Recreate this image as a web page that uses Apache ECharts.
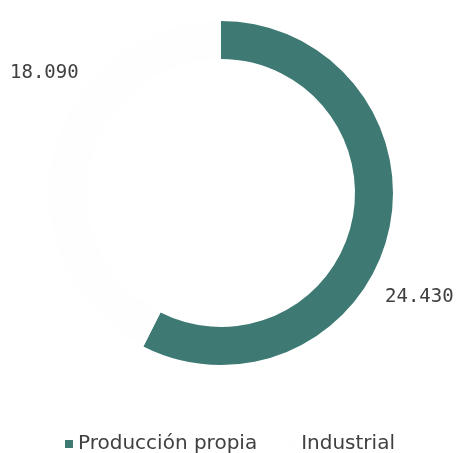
<!DOCTYPE html>
<html>
<head>
<meta charset="utf-8">
<script src="https://cdn.jsdelivr.net/npm/echarts@6/dist/echarts.min.js"></script>
<style>
html,body{margin:0;padding:0;background:#fff;}
#chart{width:457px;height:453px;}
</style>
</head>
<body>
<div id="chart"></div>
<script>
var categories = ['Producción propia', 'Industrial'];
var values = [24430, 18090];
var valueLabels = ['24.430', '18.090'];
var colors = ['#3e7a73', '#fefefe'];

var labelSpots = [
  {x: 385, y: 297},
  {x: 10, y: 73}
];

var chart = echarts.init(document.getElementById('chart'), null, {renderer: 'canvas'});
chart.setOption({
  backgroundColor: '#ffffff',
  animation: false,
  legend: {
    data: categories,
    left: 60,
    top: 429,
    icon: 'rect',
    itemWidth: 8,
    itemHeight: 8,
    itemGap: 31,
    textStyle: {fontFamily: 'DejaVu Sans', fontSize: 20, color: '#404040'}
  },
  series: [{
    type: 'pie',
    center: [221, 193],
    radius: [134, 172],
    startAngle: 90,
    clockwise: true,
    avoidLabelOverlap: false,
    data: categories.map(function (c, i) {
      return {name: c, value: values[i], itemStyle: {color: colors[i]}};
    }),
    label: {
      show: true,
      position: 'outside',
      formatter: function (p) { return valueLabels[p.dataIndex]; },
      fontFamily: 'DejaVu Sans Mono',
      fontSize: 19,
      color: '#404040'
    },
    labelLine: {show: false},
    labelLayout: function (params) {
      var s = labelSpots[params.dataIndex];
      return {x: s.x, y: s.y, align: 'left', verticalAlign: 'middle'};
    },
    emphasis: {disabled: true}
  }]
});
</script>
</body>
</html>
